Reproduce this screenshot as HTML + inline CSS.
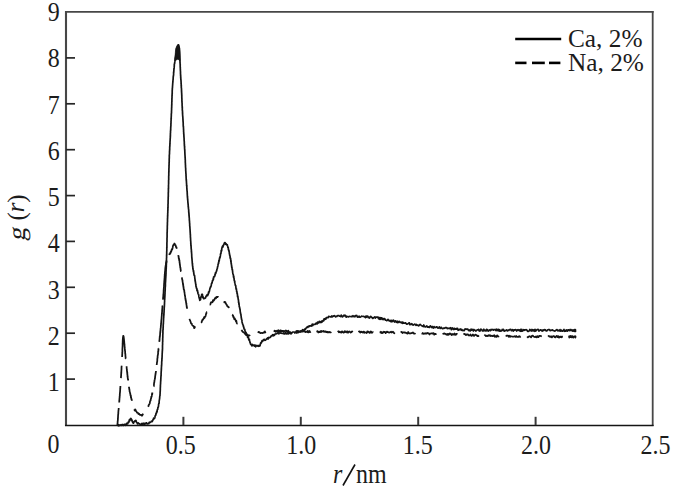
<!DOCTYPE html>
<html><head><meta charset="utf-8"><style>
html,body{margin:0;padding:0;background:#fff;}
svg{display:block;}
text{font-family:"Liberation Serif",serif;fill:#1c1c1c;}
</style></head><body>
<svg width="688" height="492" viewBox="0 0 688 492">
<rect width="688" height="492" fill="#fff"/>
<g fill="none">
<line x1="66" y1="11" x2="66" y2="426" stroke="#474747" stroke-width="2.1"/>
<line x1="65" y1="11.9" x2="653.6" y2="11.9" stroke="#474747" stroke-width="1.8"/>
<line x1="652.7" y1="11" x2="652.7" y2="426" stroke="#474747" stroke-width="1.8"/>
<line x1="65" y1="425.4" x2="653.6" y2="425.4" stroke="#151515" stroke-width="1.5"/>
<g stroke="#262626" stroke-width="1.7"><line x1="66" x2="75" y1="379.1" y2="379.1"/><line x1="66" x2="75" y1="333.2" y2="333.2"/><line x1="66" x2="75" y1="287.3" y2="287.3"/><line x1="66" x2="75" y1="241.4" y2="241.4"/><line x1="66" x2="75" y1="195.6" y2="195.6"/><line x1="66" x2="75" y1="149.7" y2="149.7"/><line x1="66" x2="75" y1="103.8" y2="103.8"/><line x1="66" x2="75" y1="57.9" y2="57.9"/></g><g stroke="#3a3a3a" stroke-width="2"><line y1="425" y2="416.8" x1="183.4" x2="183.4"/><line y1="425" y2="416.8" x1="300.8" x2="300.8"/><line y1="425" y2="416.8" x1="418.2" x2="418.2"/><line y1="425" y2="416.8" x1="535.6" x2="535.6"/></g>
</g>
<g font-size="24">
<text transform="translate(53.80,391.02) scale(1,1.120)" text-anchor="middle">1</text><text transform="translate(53.80,344.79) scale(1,1.120)" text-anchor="middle">2</text><text transform="translate(53.80,298.56) scale(1,1.120)" text-anchor="middle">3</text><text transform="translate(53.80,252.33) scale(1,1.120)" text-anchor="middle">4</text><text transform="translate(53.80,206.10) scale(1,1.120)" text-anchor="middle">5</text><text transform="translate(53.80,159.87) scale(1,1.120)" text-anchor="middle">6</text><text transform="translate(53.80,113.64) scale(1,1.120)" text-anchor="middle">7</text><text transform="translate(53.80,67.41) scale(1,1.120)" text-anchor="middle">8</text><text transform="translate(53.80,21.18) scale(1,1.120)" text-anchor="middle">9</text>
<text transform="translate(53.50,453.30) scale(1,1.120)" text-anchor="middle">0</text>
<text transform="translate(180.80,453.80) scale(1,1.120)" text-anchor="middle">0.5</text><text transform="translate(301.30,453.80) scale(1,1.120)" text-anchor="middle">1.0</text><text transform="translate(417.70,453.80) scale(1,1.120)" text-anchor="middle">1.5</text><text transform="translate(536.10,453.80) scale(1,1.120)" text-anchor="middle">2.0</text><text transform="translate(655.40,453.80) scale(1,1.120)" text-anchor="middle">2.5</text>
</g>
<g font-size="24"><text transform="translate(332.90,482.70) scale(1,1.120)" text-anchor="start"><tspan font-style="italic">r</tspan></text><text transform="translate(355.90,482.70) scale(1,1.120)" text-anchor="start">nm</text></g><line x1="343" y1="485.5" x2="355" y2="464.5" stroke="#111" stroke-width="1.6"/>
<g font-size="24"><text transform="translate(25.2,241.3) rotate(-90) skewX(-10) scale(1.12,1.03)">g</text><text transform="translate(25.4,220.6) rotate(-90) scale(1.03,1.05)">(<tspan font-style="italic" dy="-1">r</tspan><tspan dy="1">)</tspan></text></g>
<g fill="none" stroke="#000" stroke-linejoin="round" stroke-linecap="round">
<path d="M117.5 425.5 L117.6 425.2 L117.9 424.8 L118.3 425.8 L118.9 424.7 L119.6 425.6 L120.3 425.3 L121.1 424.7 L121.9 425.5 L122.7 424.5 L123.5 425.3 L124.2 424.4 L124.8 424.3 L125.3 424.8 L125.9 425.3 L126.4 423.6 L126.8 423.3 L127.2 423.7 L127.6 423.9 L128.0 422.7 L128.4 421.8 L128.8 422.3 L129.3 419.9 L129.7 420.9 L130.1 419.2 L130.5 418.6 L130.9 418.4 L131.3 419.0 L131.7 420.6 L132.0 420.1 L132.4 421.7 L132.8 422.6 L133.1 422.6 L133.5 423.2 L134.0 422.0 L134.4 421.3 L134.9 420.8 L135.3 421.1 L135.7 420.4 L136.0 420.5 L136.2 421.7 L136.5 422.3 L137.0 422.6 L137.4 423.8 L137.9 423.8 L138.4 423.0 L139.0 423.8 L139.7 423.8 L140.3 424.6 L141.1 424.4 L141.8 423.5 L142.5 424.9 L143.2 423.2 L143.8 423.8 L144.4 424.5 L145.0 423.2 L145.7 423.8 L146.4 422.8 L147.0 423.9 L147.7 423.9 L148.2 423.3 L148.8 423.6 L149.4 422.2 L149.9 422.7 L150.5 422.2 L151.0 421.8 L151.4 421.2 L151.9 421.6 L152.4 421.4 L152.8 419.9 L153.2 419.9 L153.6 418.2 L153.9 418.9 L154.3 418.2 L154.6 418.3 L154.9 417.4 L155.2 415.7 L155.5 415.3 L155.8 415.2 L156.0 413.4 L156.3 413.7 L156.5 412.5 L156.7 411.8 L156.9 411.1 L157.1 411.9 L157.2 410.0 L157.4 409.6 L157.6 409.2 L157.7 409.5 L157.9 407.3 L158.0 407.5 L158.2 407.1 L158.3 407.2 L158.4 406.5 L158.5 406.0 L158.6 404.2 L158.8 403.9 L158.9 403.2 L159.0 403.6 L159.1 403.2 L159.2 400.9 L159.3 400.3 L159.4 399.8 L159.5 399.2 L159.5 399.1 L159.6 398.6 L159.7 397.3 L159.8 396.2 L159.8 396.5 L159.9 395.8 L159.9 395.6 L160.0 395.8 L160.0 394.7 L160.1 393.8 L160.1 393.4 L160.1 392.9 L160.2 391.1 L160.2 392.2 L160.2 391.3 L160.2 390.9 L160.3 390.1 L160.3 388.7 L160.3 388.1 L160.4 386.8 L160.4 387.3 L160.4 385.5 L160.5 384.8 L160.5 384.4 L160.5 383.8 L160.6 383.6 L160.6 382.4 L160.6 381.8 L160.7 381.5 L160.7 380.8 L160.7 380.7 L160.8 379.4 L160.8 380.5 L160.8 379.4 L160.9 377.9 L160.9 377.4 L160.9 377.0 L161.0 376.4 L161.0 375.3 L161.0 376.1 L161.1 375.8 L161.1 374.1 L161.1 373.5 L161.2 372.1 L161.2 371.5 L161.2 371.3 L161.3 370.5 L161.3 371.0 L161.3 369.1 L161.4 368.2 L161.4 369.4 L161.4 368.0 L161.5 366.6 L161.5 366.8 L161.5 365.2 L161.6 365.6 L161.6 366.0 L161.6 365.1 L161.7 364.1 L161.7 362.6 L161.7 362.2 L161.8 361.2 L161.8 361.8 L161.8 360.8 L161.9 360.7 L161.9 359.2 L161.9 358.4 L162.0 359.0 L162.0 358.8 L162.0 357.9 L162.1 357.2 L162.1 356.7 L162.1 355.9 L162.2 354.3 L162.2 354.3 L162.2 353.4 L162.3 352.2 L162.3 351.6 L162.3 351.4 L162.3 350.8 L162.4 351.0 L162.4 350.9 L162.4 349.3 L162.4 349.7 L162.5 349.3 L162.5 348.6 L162.5 346.9 L162.5 346.0 L162.5 345.4 L162.6 344.8 L162.6 344.2 L162.6 344.4 L162.6 344.4 L162.6 343.7 L162.6 342.4 L162.6 342.1 L162.7 341.8 L162.7 339.7 L162.7 340.3 L162.7 340.2 L162.7 339.3 L162.7 338.6 L162.8 337.5 L162.8 336.2 L162.8 336.8 L162.8 335.3 L162.8 335.6 L162.8 335.3 L162.9 333.6 L162.9 332.9 L162.9 333.4 L162.9 332.3 L162.9 330.6 L163.0 329.9 L163.0 329.3 L163.0 330.2 L163.1 329.4 L163.1 327.5 L163.1 328.3 L163.1 328.0 L163.2 326.8 L163.2 325.6 L163.2 325.4 L163.3 323.9 L163.3 323.1 L163.3 324.4 L163.4 323.2 L163.4 322.3 L163.4 322.5 L163.5 320.9 L163.5 321.2 L163.5 320.5 L163.6 318.7 L163.6 318.1 L163.7 317.6 L163.7 316.9 L163.7 317.0 L163.8 315.7 L163.8 315.4 L163.8 314.2 L163.9 315.2 L163.9 313.5 L164.0 313.1 L164.0 312.7 L164.0 312.7 L164.1 311.1 L164.1 311.5 L164.1 310.1 L164.2 309.5 L164.2 308.9 L164.2 307.3 L164.3 307.5 L164.3 306.4 L164.3 305.4 L164.4 306.4 L164.4 304.5 L164.4 304.5 L164.5 304.4 L164.5 303.4 L164.5 302.4 L164.6 302.1 L164.6 301.6 L164.6 301.4 L164.6 299.4 L164.7 299.7 L164.7 298.5 L164.7 297.9 L164.8 298.2 L164.8 297.1 L164.8 296.6 L164.9 296.3 L164.9 296.0 L164.9 294.4 L165.0 294.2 L165.0 293.3 L165.0 292.7 L165.0 292.4 L165.1 291.3 L165.1 290.9 L165.1 290.2 L165.2 290.5 L165.2 289.4 L165.2 289.1 L165.2 288.7 L165.3 286.7 L165.3 286.7 L165.3 286.9 L165.4 286.1 L165.4 284.1 L165.4 283.5 L165.4 283.6 L165.5 282.3 L165.5 282.1 L165.5 281.1 L165.6 281.6 L165.6 281.2 L165.6 280.8 L165.7 278.6 L165.7 279.1 L165.7 278.4 L165.8 276.7 L165.8 277.6 L165.8 277.1 L165.9 275.0 L165.9 275.9 L165.9 274.2 L165.9 273.8 L166.0 274.2 L166.0 273.3 L166.0 271.3 L166.1 271.3 L166.1 270.8 L166.1 269.9 L166.1 269.0 L166.2 268.7 L166.2 268.9 L166.2 266.9 L166.3 267.3 L166.3 266.5 L166.3 265.0 L166.3 265.1 L166.3 265.0 L166.4 264.2 L166.4 262.7 L166.4 264.0 L166.4 263.0 L166.5 262.8 L166.5 260.5 L166.5 260.2 L166.5 259.1 L166.5 260.0 L166.5 258.4 L166.6 257.6 L166.6 257.6 L166.6 257.9 L166.6 257.2 L166.6 255.4 L166.6 254.6 L166.7 255.6 L166.7 254.3 L166.7 253.9 L166.7 252.1 L166.7 251.4 L166.7 252.0 L166.8 250.8 L166.8 249.5 L166.8 250.6 L166.8 249.4 L166.8 249.2 L166.8 247.2 L166.9 248.1 L166.9 246.0 L166.9 247.0 L166.9 245.6 L166.9 244.7 L166.9 244.6 L166.9 244.7 L166.9 242.8 L167.0 241.9 L167.0 242.1 L167.0 240.9 L167.0 240.0 L167.0 239.5 L167.0 238.7 L167.0 238.4 L167.0 238.0 L167.1 237.3 L167.1 237.6 L167.1 236.0 L167.1 235.8 L167.1 234.5 L167.1 234.3 L167.1 233.0 L167.1 232.8 L167.2 231.7 L167.2 232.5 L167.2 231.5 L167.2 230.2 L167.2 230.1 L167.2 230.4 L167.3 228.1 L167.3 228.9 L167.3 227.5 L167.3 227.0 L167.3 227.1 L167.3 225.6 L167.4 225.2 L167.4 225.0 L167.4 225.0 L167.4 223.1 L167.4 223.5 L167.4 222.6 L167.5 221.9 L167.5 220.8 L167.5 220.1 L167.5 218.9 L167.5 218.5 L167.6 217.8 L167.6 218.5 L167.6 216.9 L167.6 216.2 L167.6 215.4 L167.7 216.3 L167.7 215.8 L167.7 214.8 L167.7 213.4 L167.8 212.7 L167.8 212.2 L167.8 211.9 L167.8 210.7 L167.8 210.6 L167.9 209.7 L167.9 210.4 L167.9 209.8 L167.9 208.4 L167.9 207.1 L168.0 207.9 L168.0 206.0 L168.0 205.4 L168.0 204.1 L168.0 204.2 L168.1 203.8 L168.1 203.2 L168.1 201.9 L168.1 201.9 L168.1 200.4 L168.1 200.3 L168.2 199.4 L168.2 199.4 L168.2 198.1 L168.2 197.5 L168.2 197.4 L168.2 196.7 L168.3 196.8 L168.3 196.0 L168.3 195.8 L168.3 195.0 L168.3 194.5 L168.3 194.2 L168.3 192.6 L168.4 191.8 L168.4 192.5 L168.4 190.2 L168.4 190.7 L168.4 189.9 L168.4 188.1 L168.5 189.0 L168.5 188.5 L168.5 187.3 L168.5 186.9 L168.5 186.4 L168.5 184.4 L168.5 184.5 L168.6 183.9 L168.6 183.9 L168.6 183.2 L168.6 182.6 L168.6 181.5 L168.6 181.5 L168.6 180.4 L168.7 179.9 L168.7 178.3 L168.7 177.3 L168.7 176.9 L168.7 176.8 L168.7 175.7 L168.7 176.6 L168.8 175.4 L168.8 175.0 L168.8 174.4 L168.8 174.0 L168.8 173.1 L168.8 171.6 L168.8 172.6 L168.9 172.0 L168.9 171.0 L168.9 170.6 L168.9 170.3 L168.9 168.4 L168.9 169.1 L169.0 167.5 L169.0 166.5 L169.0 166.2 L169.0 166.5 L169.0 164.9 L169.0 165.4 L169.1 165.3 L169.1 163.7 L169.1 163.0 L169.1 162.6 L169.1 162.5 L169.2 162.1 L169.2 161.2 L169.2 160.7 L169.2 159.0 L169.2 158.6 L169.3 158.2 L169.3 158.6 L169.3 157.2 L169.3 157.1 L169.3 155.3 L169.4 154.8 L169.4 154.5 L169.4 154.8 L169.4 154.3 L169.5 153.7 L169.5 152.4 L169.5 152.3 L169.5 151.6 L169.6 151.0 L169.6 149.8 L169.6 150.7 L169.7 148.7 L169.7 149.7 L169.7 149.0 L169.7 146.6 L169.8 146.8 L169.8 147.0 L169.8 146.6 L169.9 145.0 L169.9 144.0 L169.9 143.3 L170.0 144.1 L170.0 142.0 L170.0 142.1 L170.1 140.6 L170.1 140.8 L170.1 141.0 L170.2 138.7 L170.2 139.4 L170.2 138.2 L170.3 138.3 L170.3 137.3 L170.3 135.7 L170.4 136.5 L170.4 135.0 L170.4 133.5 L170.5 132.8 L170.5 133.1 L170.5 132.4 L170.5 131.5 L170.6 130.6 L170.6 130.4 L170.6 129.7 L170.7 130.2 L170.7 127.9 L170.7 128.7 L170.7 128.3 L170.8 126.2 L170.8 127.2 L170.8 126.2 L170.9 125.9 L170.9 124.1 L170.9 123.6 L171.0 123.0 L171.0 123.6 L171.0 122.1 L171.0 121.1 L171.1 120.6 L171.1 119.6 L171.1 118.5 L171.2 118.0 L171.2 118.9 L171.2 117.1 L171.2 117.8 L171.3 115.8 L171.3 115.2 L171.3 115.1 L171.3 113.9 L171.4 113.6 L171.4 114.2 L171.4 113.4 L171.5 112.7 L171.5 111.7 L171.5 111.7 L171.5 111.2 L171.6 109.8 L171.6 109.6 L171.6 107.6 L171.6 108.4 L171.7 107.3 L171.7 107.4 L171.7 106.6 L171.7 105.2 L171.8 104.1 L171.8 105.2 L171.8 103.0 L171.8 103.0 L171.8 102.1 L171.9 101.4 L171.9 101.7 L171.9 101.6 L171.9 99.5 L171.9 99.7 L171.9 98.4 L172.0 98.3 L172.0 97.4 L172.0 96.4 L172.0 95.8 L172.0 95.3 L172.1 96.1 L172.1 94.7 L172.1 93.6 L172.1 94.3 L172.2 93.9 L172.2 92.3 L172.2 91.1 L172.2 90.6 L172.3 89.8 L172.3 89.7 L172.3 88.6 L172.4 88.2 L172.4 87.6 L172.5 87.6 L172.5 87.6 L172.5 86.7 L172.6 85.4 L172.6 84.8 L172.7 84.4 L172.7 83.5 L172.8 82.8 L172.8 81.6 L172.9 81.4 L172.9 82.2 L173.0 79.9 L173.0 80.0 L173.1 79.7 L173.1 79.5 L173.2 77.6 L173.2 77.1 L173.3 76.5 L173.3 76.2 L173.4 75.7 L173.4 76.1 L173.5 75.3 L173.6 74.7 L173.6 72.4 L173.7 71.7 L173.7 72.5 L173.8 72.2 L173.8 70.7 L173.9 70.3 L173.9 68.6 L174.0 68.7 L174.0 69.2 L174.1 68.4 L174.1 67.8 L174.2 67.4 L174.3 65.4 L174.3 64.5 L174.4 63.9 L174.5 64.1 L174.5 63.8 L174.6 63.6 L174.7 62.6 L174.8 61.8 L174.9 61.4 L175.0 60.2 L175.1 59.7 L175.2 58.0 L175.3 58.9 L175.4 57.1 L175.5 57.8 L175.6 56.5 L175.8 55.1 L175.9 54.1 L176.0 53.6 L176.1 53.7 L176.3 53.2 L176.4 51.4 L176.5 50.6 L176.6 50.9 L176.8 50.4 L176.9 49.5 L177.0 48.6 L177.1 48.9 L177.2 47.2 L177.3 47.3 L177.4 47.3 L177.5 47.9 L177.7 46.3 L178.0 46.1 L178.2 45.0 L178.5 44.8 L178.7 45.5 L179.0 47.9 L179.1 47.8 L179.1 47.4 L179.2 47.2 L179.3 48.6 L179.3 49.5 L179.4 49.5 L179.4 49.8 L179.5 51.2 L179.5 52.3 L179.5 51.6 L179.6 51.9 L179.6 53.1 L179.7 54.0 L179.7 55.2 L179.7 54.9 L179.8 56.8 L179.8 57.4 L179.8 57.6 L179.8 57.7 L179.9 59.9 L179.9 59.3 L179.9 60.9 L180.0 60.4 L180.0 60.9 L180.0 62.7 L180.1 62.4 L180.1 64.3 L180.1 64.0 L180.2 64.0 L180.2 64.7 L180.2 65.7 L180.2 66.8 L180.3 68.0 L180.3 67.0 L180.3 68.1 L180.3 68.4 L180.4 70.5 L180.4 69.5 L180.4 69.9 L180.4 70.5 L180.5 71.8 L180.5 73.5 L180.5 74.1 L180.6 74.4 L180.6 75.6 L180.6 76.1 L180.7 75.4 L180.7 75.8 L180.7 77.9 L180.8 78.1 L180.8 77.3 L180.8 79.1 L180.9 79.2 L180.9 79.8 L181.0 80.3 L181.0 80.6 L181.0 80.9 L181.1 82.1 L181.1 82.8 L181.1 84.7 L181.2 83.6 L181.2 85.9 L181.3 85.0 L181.3 86.0 L181.3 87.5 L181.4 88.1 L181.4 88.0 L181.4 87.8 L181.5 89.3 L181.5 89.7 L181.5 91.4 L181.6 90.6 L181.6 91.5 L181.6 93.2 L181.6 92.0 L181.7 93.3 L181.7 94.7 L181.7 95.2 L181.7 94.4 L181.8 94.9 L181.8 95.6 L181.8 97.9 L181.8 97.1 L181.9 98.7 L181.9 99.6 L181.9 99.1 L181.9 99.5 L181.9 101.5 L182.0 101.4 L182.0 101.4 L182.0 102.9 L182.0 102.7 L182.1 103.3 L182.1 103.4 L182.1 105.5 L182.2 106.5 L182.2 106.6 L182.2 107.7 L182.3 106.5 L182.3 107.4 L182.3 108.5 L182.3 110.0 L182.4 110.6 L182.4 110.1 L182.4 110.4 L182.5 111.3 L182.5 112.0 L182.5 113.5 L182.6 112.6 L182.6 114.5 L182.6 115.0 L182.7 115.7 L182.7 116.3 L182.8 116.5 L182.8 116.6 L182.8 117.2 L182.9 117.9 L182.9 119.4 L182.9 118.6 L183.0 119.5 L183.0 121.2 L183.0 120.8 L183.1 121.1 L183.1 121.7 L183.2 123.3 L183.2 123.5 L183.2 125.4 L183.3 125.9 L183.3 126.7 L183.3 125.9 L183.4 126.2 L183.4 126.8 L183.5 128.2 L183.5 129.3 L183.5 129.4 L183.6 129.6 L183.6 130.5 L183.6 131.6 L183.7 132.3 L183.7 133.0 L183.7 133.9 L183.8 134.1 L183.8 133.6 L183.9 135.7 L183.9 135.2 L183.9 136.4 L184.0 136.7 L184.0 138.0 L184.0 137.6 L184.1 138.3 L184.1 138.9 L184.1 139.4 L184.2 141.5 L184.2 141.5 L184.3 141.6 L184.3 142.4 L184.3 144.2 L184.4 143.9 L184.4 143.9 L184.4 145.7 L184.5 146.0 L184.5 147.3 L184.6 146.1 L184.6 147.5 L184.6 148.8 L184.7 149.4 L184.7 150.2 L184.7 149.0 L184.8 150.1 L184.8 150.3 L184.8 151.1 L184.9 153.2 L184.9 153.0 L184.9 154.2 L184.9 153.7 L185.0 155.2 L185.0 154.9 L185.0 155.2 L185.1 156.9 L185.1 157.8 L185.1 156.8 L185.2 158.4 L185.2 159.0 L185.2 158.8 L185.2 159.7 L185.3 159.8 L185.3 160.5 L185.3 161.2 L185.3 162.4 L185.4 163.1 L185.4 162.8 L185.4 162.9 L185.4 164.1 L185.5 165.4 L185.5 165.0 L185.5 165.9 L185.5 166.2 L185.6 168.0 L185.6 168.2 L185.6 167.8 L185.7 168.5 L185.7 169.8 L185.7 170.6 L185.8 171.4 L185.8 170.8 L185.8 171.5 L185.9 173.2 L185.9 173.2 L185.9 173.5 L186.0 174.1 L186.0 176.0 L186.0 175.3 L186.1 176.4 L186.1 176.6 L186.1 177.3 L186.2 178.8 L186.2 179.7 L186.3 179.1 L186.3 179.4 L186.3 181.0 L186.4 180.6 L186.4 180.8 L186.5 183.3 L186.5 182.9 L186.6 184.4 L186.6 184.2 L186.6 185.8 L186.7 185.5 L186.7 185.6 L186.8 185.9 L186.8 187.6 L186.9 188.4 L186.9 189.6 L186.9 188.6 L187.0 190.3 L187.0 190.4 L187.1 191.3 L187.1 191.2 L187.2 192.1 L187.2 193.2 L187.3 194.6 L187.3 193.6 L187.3 195.0 L187.4 196.2 L187.4 197.2 L187.5 196.2 L187.5 196.7 L187.6 198.9 L187.6 199.6 L187.7 199.2 L187.7 198.9 L187.8 201.3 L187.8 200.8 L187.9 202.4 L187.9 202.5 L188.0 203.5 L188.0 202.7 L188.1 204.6 L188.1 204.1 L188.2 205.0 L188.2 206.5 L188.3 207.1 L188.3 206.4 L188.4 207.1 L188.4 208.0 L188.5 208.9 L188.5 209.2 L188.6 209.3 L188.7 210.2 L188.7 211.7 L188.8 212.7 L188.8 211.6 L188.9 213.2 L188.9 214.2 L189.0 213.4 L189.0 215.7 L189.1 214.8 L189.1 216.4 L189.2 217.0 L189.2 217.8 L189.3 217.8 L189.3 218.6 L189.3 219.5 L189.4 219.8 L189.4 220.9 L189.5 221.0 L189.5 221.6 L189.5 221.4 L189.6 223.2 L189.6 223.5 L189.7 223.6 L189.7 225.3 L189.7 225.9 L189.8 225.9 L189.8 226.0 L189.9 227.2 L189.9 227.1 L189.9 227.8 L190.0 229.0 L190.0 228.9 L190.1 230.3 L190.1 231.0 L190.1 230.7 L190.2 232.6 L190.2 232.1 L190.3 234.0 L190.3 234.8 L190.3 234.9 L190.4 234.6 L190.4 236.1 L190.4 236.5 L190.5 238.3 L190.5 237.3 L190.6 239.3 L190.6 240.2 L190.6 240.3 L190.7 241.1 L190.7 240.5 L190.8 242.7 L190.8 242.3 L190.8 243.8 L190.9 244.3 L190.9 243.4 L190.9 245.3 L191.0 246.1 L191.0 245.0 L191.1 246.1 L191.1 247.5 L191.1 246.9 L191.2 248.9 L191.2 248.2 L191.3 249.8 L191.3 249.0 L191.4 250.4 L191.4 251.9 L191.5 251.2 L191.5 251.9 L191.6 253.1 L191.6 253.4 L191.6 253.5 L191.7 254.4 L191.7 255.0 L191.8 257.2 L191.8 257.4 L191.9 258.4 L191.9 257.6 L192.0 259.4 L192.0 258.7 L192.1 260.2 L192.1 261.0 L192.2 261.0 L192.2 262.6 L192.3 262.6 L192.3 263.2 L192.4 264.4 L192.5 263.4 L192.5 265.8 L192.6 265.6 L192.6 265.7 L192.7 267.0 L192.8 266.5 L192.8 268.5 L192.9 268.2 L193.0 268.4 L193.1 269.9 L193.2 269.9 L193.3 270.0 L193.4 271.7 L193.6 270.9 L193.7 273.1 L193.8 272.5 L193.9 273.9 L194.0 275.1 L194.1 274.9 L194.3 275.6 L194.4 275.5 L194.5 275.4 L194.6 276.0 L194.7 276.8 L194.8 278.3 L194.9 278.6 L195.0 279.4 L195.1 280.9 L195.2 280.0 L195.2 280.8 L195.3 282.3 L195.4 281.7 L195.5 282.3 L195.6 283.6 L195.7 283.7 L195.8 284.8 L195.9 285.2 L196.0 286.5 L196.1 287.1 L196.3 286.9 L196.5 288.4 L196.7 288.7 L196.9 288.6 L197.0 290.8 L197.2 290.0 L197.4 290.3 L197.6 290.8 L197.8 292.5 L198.0 293.5 L198.2 294.0 L198.4 294.0 L198.5 294.5 L198.7 294.8 L198.9 296.9 L199.1 297.5 L199.2 297.7 L199.4 298.9 L199.6 299.0 L199.8 300.3 L200.0 300.0 L200.2 298.8 L200.5 299.6 L200.8 297.2 L201.0 297.3 L201.3 296.2 L201.6 295.2 L201.8 294.3 L202.1 295.6 L202.4 294.3 L202.6 296.0 L202.8 297.6 L203.1 296.8 L203.4 297.6 L203.7 298.7 L204.2 298.4 L204.9 298.3 L205.5 298.0 L206.1 296.1 L206.5 296.0 L206.9 295.5 L207.2 294.5 L207.6 295.6 L207.9 294.8 L208.3 294.0 L208.6 291.8 L208.8 293.0 L209.0 292.4 L209.2 291.3 L209.4 291.3 L209.6 290.2 L209.8 289.2 L210.0 288.3 L210.2 288.0 L210.4 287.0 L210.5 286.9 L210.7 287.1 L210.9 286.4 L211.1 286.0 L211.3 285.1 L211.5 283.6 L211.7 283.5 L211.9 282.7 L212.1 282.8 L212.3 281.6 L212.5 280.5 L212.7 280.7 L212.9 280.7 L213.2 278.7 L213.4 279.4 L213.6 277.1 L213.8 277.0 L214.1 276.4 L214.3 276.8 L214.5 276.7 L214.8 275.7 L215.0 274.3 L215.2 274.8 L215.4 273.1 L215.7 272.4 L215.9 273.1 L216.1 272.0 L216.3 271.5 L216.5 270.8 L216.7 270.9 L216.9 269.3 L217.0 269.4 L217.2 268.6 L217.4 268.3 L217.5 266.8 L217.7 266.8 L217.9 265.9 L218.0 264.8 L218.2 264.0 L218.3 264.2 L218.5 262.5 L218.6 263.5 L218.8 261.4 L218.9 260.5 L219.1 260.1 L219.2 261.2 L219.4 259.4 L219.5 258.4 L219.7 257.6 L219.8 257.1 L220.0 257.8 L220.1 257.0 L220.2 256.5 L220.4 255.9 L220.5 254.0 L220.6 254.4 L220.7 253.3 L220.9 253.6 L221.0 253.0 L221.1 252.5 L221.2 250.3 L221.4 251.3 L221.5 250.9 L221.7 250.4 L221.8 248.2 L222.0 247.9 L222.2 247.0 L222.5 246.2 L222.8 247.1 L223.1 246.3 L223.3 245.3 L223.6 245.1 L223.9 244.3 L224.3 243.2 L224.6 242.7 L225.1 242.7 L225.6 244.3 L226.1 243.6 L226.6 244.4 L227.1 245.2 L227.3 244.8 L227.5 245.7 L227.7 246.2 L227.9 247.6 L228.1 247.4 L228.3 247.9 L228.4 249.8 L228.6 249.5 L228.7 250.8 L228.9 251.0 L229.0 250.5 L229.2 252.0 L229.3 252.7 L229.4 254.1 L229.6 254.0 L229.7 255.4 L229.8 255.7 L230.0 255.8 L230.1 257.7 L230.2 256.8 L230.3 258.8 L230.4 258.1 L230.6 258.3 L230.7 259.3 L230.8 261.0 L230.9 262.0 L231.0 260.6 L231.1 262.2 L231.1 262.8 L231.2 264.0 L231.3 263.4 L231.4 264.6 L231.5 264.9 L231.6 266.5 L231.7 265.9 L231.8 267.9 L231.9 267.2 L232.0 267.7 L232.1 269.4 L232.2 269.6 L232.4 269.5 L232.5 271.2 L232.6 270.8 L232.7 272.7 L232.8 273.1 L232.9 273.8 L233.0 274.0 L233.1 274.1 L233.3 274.7 L233.4 275.3 L233.5 276.9 L233.6 275.8 L233.7 278.0 L233.9 276.9 L234.0 277.9 L234.1 278.6 L234.2 280.5 L234.4 280.3 L234.5 280.7 L234.6 282.3 L234.8 281.6 L234.9 282.7 L235.0 283.4 L235.2 284.5 L235.3 285.1 L235.4 285.5 L235.6 285.6 L235.7 286.1 L235.8 286.4 L236.0 288.4 L236.1 288.7 L236.2 289.4 L236.4 288.9 L236.5 290.0 L236.6 291.3 L236.7 291.5 L236.8 291.2 L237.0 292.5 L237.1 293.9 L237.2 293.2 L237.3 293.6 L237.4 294.4 L237.5 295.8 L237.6 296.8 L237.8 296.0 L237.9 296.7 L238.0 297.5 L238.1 298.3 L238.2 299.3 L238.3 299.2 L238.4 300.1 L238.5 300.5 L238.6 302.7 L238.7 302.8 L238.8 302.1 L238.9 304.5 L239.0 303.4 L239.1 304.5 L239.2 306.3 L239.3 306.5 L239.4 307.0 L239.5 307.0 L239.6 307.1 L239.7 308.5 L239.8 308.1 L239.9 308.8 L240.0 309.8 L240.1 309.6 L240.2 310.9 L240.3 312.2 L240.4 312.6 L240.5 312.9 L240.6 313.8 L240.8 314.1 L240.9 314.1 L241.0 315.7 L241.1 315.9 L241.2 317.2 L241.3 318.2 L241.4 317.8 L241.5 318.7 L241.6 319.7 L241.7 319.6 L241.9 319.9 L242.0 321.4 L242.1 322.3 L242.2 322.7 L242.4 323.1 L242.5 324.0 L242.7 324.2 L242.8 324.7 L243.0 324.9 L243.2 325.3 L243.4 326.5 L243.5 326.0 L243.7 327.3 L244.0 328.6 L244.2 329.0 L244.4 329.4 L244.6 329.2 L244.8 330.1 L245.0 330.7 L245.2 331.6 L245.5 331.7 L245.7 332.7 L245.9 333.8 L246.2 332.9 L246.4 334.4 L246.7 335.2 L247.0 335.0 L247.3 335.7 L247.6 337.3 L247.8 335.9 L248.1 337.5 L248.4 337.2 L248.6 339.0 L248.9 339.9 L249.1 339.6 L249.4 339.4 L249.6 341.0 L249.8 341.5 L250.0 342.5 L250.2 342.7 L250.4 343.5 L250.7 344.4 L251.0 344.2 L251.3 344.3 L251.8 345.8 L252.4 344.5 L253.0 345.6 L253.7 345.1 L254.4 346.0 L255.0 344.9 L255.6 346.8 L256.3 345.8 L256.9 345.4 L257.6 346.0 L258.2 346.3 L258.8 345.5 L259.3 346.1 L259.7 345.8 L260.0 345.8 L260.3 344.5 L260.5 343.6 L260.7 342.8 L261.0 343.2 L261.3 342.9 L261.7 341.6 L262.1 340.6 L262.6 341.4 L263.1 340.3 L263.7 339.7 L264.3 339.3 L264.8 340.3 L265.4 340.2 L266.0 339.6 L266.6 338.9 L267.1 338.8 L267.7 337.8 L268.2 339.0 L268.8 337.4 L269.3 337.6 L269.9 337.6 L270.4 337.3 L271.0 336.2 L271.6 335.6 L272.1 335.8 L272.7 334.7 L273.3 335.8 L273.9 334.6 L274.4 335.4 L275.0 334.0 L275.6 334.0 L276.2 333.6 L276.8 333.8 L277.4 333.1 L278.1 332.6 L278.8 333.9 L279.3 333.0 L279.9 332.8 L280.4 332.9 L281.0 333.2 L281.6 333.1 L282.2 333.5 L282.9 333.5 L283.5 332.9 L284.1 334.0 L284.8 333.9 L285.4 332.3 L286.1 333.8 L286.8 334.0 L287.4 333.7 L288.0 332.4 L288.7 333.8 L289.3 333.4 L289.9 332.1 L290.4 332.1 L291.0 333.9 L291.7 333.2 L292.4 332.3 L293.0 332.0 L293.7 332.0 L294.3 332.0 L294.9 333.0 L295.6 332.1 L296.2 331.6 L296.8 333.0 L297.3 332.6 L297.9 331.2 L298.5 332.5 L299.0 331.8 L299.6 332.0 L300.2 331.5 L300.8 331.8 L301.4 331.4 L301.9 331.2 L302.5 329.7 L303.1 330.4 L303.7 329.8 L304.2 330.0 L304.6 329.1 L305.1 329.7 L305.7 328.8 L306.2 327.9 L306.7 327.5 L307.3 327.0 L307.8 327.4 L308.4 326.2 L309.0 326.7 L309.5 325.8 L310.1 326.1 L310.7 325.8 L311.2 325.6 L311.8 326.0 L312.3 324.0 L312.9 325.4 L313.5 324.4 L314.0 324.3 L314.6 324.3 L315.2 324.4 L315.8 323.3 L316.4 323.1 L317.0 324.0 L317.6 322.0 L318.2 323.0 L318.8 322.7 L319.3 321.3 L319.9 322.3 L320.5 322.2 L321.0 322.5 L321.5 321.0 L322.0 322.1 L322.6 320.8 L323.1 320.4 L323.6 320.9 L324.1 318.8 L324.5 319.8 L325.0 319.2 L325.4 318.3 L325.9 319.0 L326.4 317.7 L326.9 317.6 L327.5 317.5 L328.1 317.7 L328.6 316.4 L329.2 316.7 L329.8 316.5 L330.5 316.7 L331.1 317.1 L331.8 316.0 L332.4 316.9 L333.1 316.0 L333.7 316.2 L334.4 315.6 L335.0 316.1 L335.7 316.9 L336.3 316.3 L336.9 316.5 L337.5 315.6 L338.1 315.6 L338.7 315.5 L339.4 316.1 L340.0 316.3 L340.6 316.6 L341.2 315.1 L341.9 316.5 L342.5 316.9 L343.1 316.2 L343.7 315.3 L344.4 315.8 L345.0 315.2 L345.6 315.6 L346.2 317.1 L346.8 316.4 L347.4 316.5 L348.0 316.8 L348.6 317.0 L349.2 316.4 L349.9 316.5 L350.5 316.5 L351.1 316.6 L351.7 316.4 L352.4 316.6 L353.0 315.7 L353.7 316.6 L354.3 316.2 L355.0 316.8 L355.5 315.5 L356.1 315.7 L356.7 315.4 L357.3 316.9 L357.9 317.2 L358.5 316.8 L359.1 316.2 L359.8 317.2 L360.4 317.1 L361.0 316.7 L361.7 316.1 L362.3 316.3 L363.0 316.5 L363.6 316.4 L364.2 316.6 L364.9 317.1 L365.5 317.7 L366.1 316.0 L366.7 317.1 L367.3 316.1 L367.9 316.3 L368.4 317.7 L369.0 317.3 L369.5 318.0 L370.0 317.1 L370.7 316.3 L371.3 317.1 L372.0 317.5 L372.5 318.3 L373.1 318.4 L373.7 317.5 L374.2 317.4 L374.8 316.8 L375.4 318.0 L376.0 317.2 L376.7 317.2 L377.4 317.0 L377.9 317.1 L378.4 318.5 L378.9 317.5 L379.4 319.3 L380.0 317.6 L380.5 319.3 L381.1 317.9 L381.7 317.8 L382.3 319.4 L382.9 318.5 L383.5 319.6 L384.1 318.7 L384.7 318.5 L385.4 320.1 L386.0 320.1 L386.6 320.6 L387.3 320.4 L387.9 319.3 L388.6 320.5 L389.2 320.8 L389.9 320.4 L390.5 321.5 L391.2 320.3 L391.8 321.8 L392.4 321.5 L393.1 320.2 L393.7 320.3 L394.3 321.7 L394.9 322.1 L395.5 320.8 L396.1 321.3 L396.7 322.3 L397.3 321.2 L397.9 322.7 L398.5 322.1 L399.1 321.3 L399.7 322.0 L400.3 322.5 L400.9 322.3 L401.5 322.9 L402.1 321.9 L402.7 323.3 L403.3 322.5 L403.9 323.2 L404.5 323.2 L405.1 322.9 L405.7 322.9 L406.3 323.8 L406.9 324.2 L407.5 324.0 L408.1 323.6 L408.7 323.2 L409.3 322.8 L409.9 324.7 L410.5 324.2 L411.1 324.6 L411.7 323.7 L412.3 324.3 L412.9 325.1 L413.5 324.9 L414.1 324.6 L414.7 324.1 L415.3 324.4 L415.9 325.4 L416.5 324.5 L417.1 325.2 L417.7 325.1 L418.3 325.8 L418.9 325.7 L419.5 324.8 L420.1 324.3 L420.7 324.9 L421.3 325.4 L422.0 325.8 L422.6 326.3 L423.2 326.6 L423.8 325.0 L424.4 326.6 L425.0 326.7 L425.6 326.9 L426.2 326.4 L426.8 325.9 L427.4 327.1 L428.0 327.1 L428.6 326.9 L429.2 327.5 L429.8 326.4 L430.4 325.9 L431.0 326.9 L431.6 327.5 L432.2 326.4 L432.8 327.5 L433.4 328.0 L434.0 326.6 L434.6 327.4 L435.2 327.6 L435.8 327.3 L436.4 326.8 L437.0 326.9 L437.6 328.0 L438.2 328.1 L438.8 327.5 L439.4 326.8 L440.0 328.3 L440.6 328.3 L441.2 327.3 L441.8 328.0 L442.4 328.7 L443.0 328.7 L443.6 328.0 L444.2 328.0 L444.8 328.3 L445.4 327.5 L446.0 327.6 L446.6 327.6 L447.2 328.7 L447.8 328.1 L448.4 328.5 L449.0 328.3 L449.6 328.6 L450.2 327.9 L450.8 327.7 L451.4 329.7 L452.1 328.5 L452.7 328.0 L453.3 329.1 L453.9 329.5 L454.5 328.3 L455.1 329.2 L455.7 328.8 L456.3 329.2 L456.9 328.3 L457.5 328.3 L458.1 330.3 L458.7 330.1 L459.4 329.4 L460.0 329.6 L460.6 329.0 L461.2 330.1 L461.7 329.5 L462.3 330.5 L462.9 330.2 L463.5 330.4 L464.1 330.7 L464.7 329.3 L465.3 328.9 L465.9 329.3 L466.5 329.2 L467.1 329.1 L467.7 329.0 L468.3 330.1 L468.9 330.7 L469.4 329.9 L470.0 330.9 L470.5 330.8 L471.1 329.1 L471.7 330.2 L472.2 329.8 L472.8 329.3 L473.4 331.0 L474.0 329.6 L474.6 330.2 L475.2 330.3 L475.8 331.0 L476.5 330.4 L477.2 329.9 L477.8 330.0 L478.5 329.4 L479.3 331.0 L480.0 331.1 L480.5 329.5 L480.9 329.2 L481.4 329.6 L481.9 329.8 L482.4 330.9 L482.9 330.9 L483.4 330.8 L483.9 329.2 L484.4 330.7 L485.0 330.6 L485.5 330.4 L486.0 331.1 L486.6 329.3 L487.1 329.5 L487.7 330.7 L488.2 331.1 L488.8 330.5 L489.4 329.8 L489.9 330.4 L490.5 330.7 L491.1 329.4 L491.7 329.8 L492.3 329.7 L492.9 329.4 L493.5 330.2 L494.1 329.5 L494.7 329.7 L495.3 329.5 L495.9 330.6 L496.5 329.2 L497.2 330.7 L497.8 329.6 L498.4 329.3 L499.0 331.1 L499.7 329.7 L500.3 331.1 L501.0 331.0 L501.6 331.0 L502.2 329.5 L502.9 330.1 L503.5 329.4 L504.2 331.1 L504.8 330.9 L505.5 330.5 L506.1 330.2 L506.8 329.9 L507.5 330.9 L508.1 330.2 L508.8 330.5 L509.4 329.5 L510.1 329.7 L510.8 329.4 L511.4 330.7 L512.1 330.4 L512.7 329.6 L513.4 331.0 L514.1 329.8 L514.7 330.1 L515.4 329.6 L516.0 329.8 L516.7 331.0 L517.4 330.0 L518.0 329.6 L518.7 330.3 L519.3 329.9 L520.0 331.1 L520.6 329.5 L521.1 331.3 L521.7 329.4 L522.3 331.1 L523.0 330.6 L523.6 329.7 L524.2 330.3 L524.9 329.9 L525.5 329.8 L526.2 329.7 L526.9 330.1 L527.6 331.3 L528.3 331.3 L529.0 331.2 L529.8 329.5 L530.5 329.9 L531.2 331.1 L532.0 329.5 L532.7 330.8 L533.5 329.9 L534.3 331.3 L535.0 329.4 L535.8 331.0 L536.6 330.0 L537.4 329.6 L538.2 329.4 L539.0 331.0 L539.8 330.4 L540.6 329.8 L541.4 330.3 L542.2 331.2 L543.0 329.8 L543.8 330.5 L544.6 329.7 L545.4 329.8 L546.2 330.9 L547.0 330.8 L547.8 329.8 L548.6 329.6 L549.4 329.6 L550.2 330.6 L551.0 330.4 L551.8 330.0 L552.5 329.8 L553.3 330.6 L554.1 330.8 L554.9 331.1 L555.6 330.6 L556.4 329.8 L557.1 329.6 L557.8 330.9 L558.6 330.3 L559.3 330.9 L560.0 329.6 L560.7 331.1 L561.4 330.1 L562.0 331.1 L562.7 331.2 L563.4 330.4 L564.0 329.5 L564.6 331.3 L565.3 330.4 L565.9 331.2 L566.5 330.0 L567.0 329.8 L567.6 331.1 L568.1 330.2 L568.7 329.8 L569.2 330.2 L569.7 330.7 L570.2 329.5 L570.6 330.5 L571.1 330.4 L571.5 330.5 L571.9 329.7 L572.3 330.9 L572.7 331.1 L573.0 331.2 L573.3 330.1 L573.6 330.9 L573.9 330.3 L574.2 331.0 L574.4 329.6 L574.6 331.2 L574.8 331.4 L575.0 330.5 L575.2 330.5 L575.3 330.6 L575.4 330.6 L575.4 329.5 L575.5 331.4 L575.5 330.5" stroke-width="1.7" stroke="#141414" stroke-linecap="butt"/>
<path d="M117.4 425.5 L117.4 425.0 L117.4 424.8 L117.4 424.5 L117.4 424.4 L117.5 425.1 L117.5 423.3 L117.5 423.0 L117.6 423.5 L117.6 422.1 L117.7 421.2 L117.7 421.5 L117.8 420.8 L117.8 420.0 L117.9 419.6 L117.9 417.8 L118.0 418.3 L118.0 417.3 L118.1 415.4 L118.1 414.7 L118.2 414.5 L118.3 413.7 L118.3 412.6 L118.4 411.5 L118.4 411.2 L118.5 410.0 L118.6 410.1 L118.6 409.9 L118.7 408.0 L118.7 408.0 M119.2 402.4 L119.2 401.9 L119.3 401.5 L119.3 399.9 L119.4 400.4 L119.4 400.0 L119.5 398.4 L119.5 397.9 L119.6 398.0 L119.6 396.8 L119.7 396.0 L119.7 396.3 L119.8 395.4 L119.8 394.1 L119.9 393.3 L119.9 392.9 L120.0 392.5 L120.0 392.8 L120.0 391.9 L120.1 391.5 L120.1 390.7 L120.2 390.1 L120.2 388.2 L120.3 388.4 L120.3 388.6 L120.3 387.9 L120.4 386.2 L120.4 386.1 M120.9 378.2 L121.0 377.5 L121.0 377.3 L121.0 376.3 L121.1 376.0 L121.1 374.7 L121.1 374.7 L121.2 374.2 L121.2 372.8 L121.2 372.4 L121.3 373.2 L121.3 372.3 L121.3 372.0 L121.4 370.9 L121.4 370.5 L121.4 370.1 L121.5 369.4 L121.5 367.4 L121.5 367.8 L121.6 366.5 L121.6 366.6 L121.6 365.7 M122.1 357.0 L122.1 356.0 L122.2 355.8 L122.2 355.8 L122.2 354.5 L122.3 353.2 L122.3 352.9 L122.3 352.0 L122.4 352.1 L122.4 350.2 L122.4 349.4 L122.4 349.2 L122.5 347.5 L122.5 347.5 L122.5 347.3 L122.6 345.8 L122.6 344.6 L122.6 344.2 L122.6 343.5 L122.7 342.2 L122.7 341.4 L122.7 340.7 L122.8 340.4 L122.8 339.9 L122.8 339.1 L122.9 338.5 L122.9 337.7 L122.9 338.0 L123.0 338.1 L123.0 337.3 L123.1 336.9 L123.1 336.8 L123.2 335.8 L123.2 336.5 L123.3 336.0 L123.3 336.1 L123.3 336.2 L123.4 336.1 L123.5 336.0 L123.5 336.0 L123.6 336.3 L123.6 337.1 L123.7 337.2 L123.7 338.0 L123.8 337.5 L123.9 338.5 L123.9 339.9 L124.0 339.4 L124.1 340.6 L124.1 341.1 L124.2 341.4 L124.3 343.3 L124.3 342.8 L124.4 344.4 L124.5 344.1 L124.5 344.7 L124.6 346.8 L124.7 346.9 L124.7 347.1 L124.8 348.4 L124.9 349.3 L124.9 350.6 L125.0 350.3 L125.1 351.3 L125.2 353.3 L125.2 353.7 L125.3 353.5 L125.4 354.6 L125.4 355.3 L125.5 356.6 L125.6 357.1 L125.6 358.2 L125.7 358.7 L125.8 358.8 M126.6 366.3 L126.6 367.0 L126.7 368.0 L126.7 368.6 L126.8 369.3 L126.9 369.4 L126.9 370.6 L127.0 371.1 L127.1 372.1 L127.1 371.3 L127.2 373.2 L127.3 372.4 L127.3 374.3 L127.4 374.6 L127.5 375.0 L127.5 376.4 L127.6 376.3 L127.7 376.6 L127.7 377.8 L127.8 378.5 L127.9 378.6 L127.9 378.8 L128.0 379.5 L128.1 380.0 L128.1 380.6 M129.0 386.8 L129.0 387.8 L129.1 387.7 L129.2 388.4 L129.3 389.3 L129.4 389.5 L129.5 390.0 L129.6 391.3 L129.7 392.0 L129.8 391.9 L129.9 392.4 L130.0 392.5 L130.1 393.3 L130.3 393.7 L130.4 395.0 L130.6 395.6 L130.8 395.4 L130.9 397.4 L131.1 397.0 L131.2 398.4 L131.4 399.0 L131.6 399.8 L131.7 399.1 L131.9 400.0 L132.1 400.7 M134.3 409.2 L134.7 410.5 L135.1 409.4 L135.6 409.9 L136.0 411.2 L136.5 411.5 L137.0 412.6 L137.5 412.8 L137.9 412.8 L138.4 414.0 L138.9 413.7 L139.4 414.2 L140.0 414.9 L140.5 414.8 L141.0 415.0 L141.4 415.5 L141.9 414.9 L142.3 415.5 L142.7 414.5 L143.1 413.7 M148.2 406.9 L148.4 406.4 L148.6 405.2 L148.8 405.1 L149.0 404.6 L149.3 404.3 L149.5 403.7 L149.7 403.6 L149.8 403.2 L150.0 401.7 L150.2 401.0 L150.4 400.7 L150.6 400.7 L150.8 398.9 L151.0 398.6 L151.1 398.4 L151.3 396.7 L151.5 396.3 L151.6 396.8 L151.8 395.9 L151.9 394.8 L152.1 393.5 L152.2 394.3 L152.3 393.4 L152.5 392.5 M153.6 386.6 L153.7 386.5 L153.8 386.2 L153.9 385.4 L154.0 384.0 L154.1 382.9 L154.2 382.5 L154.3 382.3 L154.4 381.6 L154.5 380.4 L154.6 379.8 L154.7 379.9 L154.8 379.2 L154.9 378.1 L155.0 378.5 L155.1 377.4 L155.2 375.8 L155.2 375.9 L155.3 376.0 L155.4 374.6 L155.5 374.7 L155.6 373.0 L155.6 372.9 L155.7 373.3 L155.8 372.3 L155.9 371.8 L156.0 371.0 M156.7 365.0 L156.8 363.9 L156.8 363.8 L156.9 363.3 L157.0 362.2 L157.1 362.2 L157.1 361.4 L157.2 361.6 L157.3 360.3 L157.3 359.4 L157.4 358.3 L157.5 357.7 L157.6 358.1 L157.6 356.4 L157.7 355.7 L157.8 355.2 L157.8 355.2 L157.9 355.1 L158.0 354.1 L158.1 353.8 L158.1 351.9 L158.2 351.2 L158.3 351.9 L158.3 350.5 L158.4 350.6 L158.5 349.4 L158.5 348.5 L158.6 348.5 M159.3 341.8 L159.4 340.8 L159.4 339.9 L159.5 340.6 L159.6 339.5 L159.6 338.4 L159.7 338.0 L159.7 337.3 L159.8 336.1 L159.9 336.9 L159.9 335.7 L160.0 335.7 L160.1 334.2 L160.1 333.9 L160.2 332.7 L160.2 331.7 L160.3 332.6 L160.4 331.8 L160.4 330.3 L160.5 330.7 L160.5 329.9 L160.6 328.4 L160.6 328.3 L160.7 328.3 L160.8 327.0 L160.8 327.1 L160.9 325.3 L160.9 325.0 L161.0 325.0 L161.0 323.5 L161.1 323.1 L161.1 323.5 L161.2 322.2 L161.2 322.2 L161.3 320.7 L161.4 320.0 L161.4 319.8 L161.5 318.8 L161.5 319.5 L161.6 317.7 L161.6 317.5 L161.7 316.2 L161.7 316.3 L161.8 315.4 L161.8 314.8 L161.9 313.7 L161.9 313.2 L162.0 313.8 L162.0 312.4 L162.1 311.6 L162.1 310.9 L162.1 310.5 L162.2 309.8 L162.2 308.9 L162.3 309.4 L162.3 308.3 L162.4 307.4 L162.4 307.8 L162.4 306.1 L162.5 306.2 M163.0 299.6 L163.0 298.6 L163.1 298.9 L163.1 297.0 L163.2 296.9 L163.2 297.0 L163.3 296.4 L163.3 294.7 L163.4 294.5 L163.4 294.5 L163.5 293.3 L163.5 293.7 L163.6 291.8 L163.6 292.4 L163.6 291.0 L163.7 289.9 L163.7 289.6 L163.8 288.4 L163.8 288.7 L163.9 287.3 L163.9 287.7 L164.0 286.5 L164.0 285.4 L164.0 284.5 L164.1 284.5 L164.1 283.1 L164.2 283.5 L164.2 281.5 L164.3 281.5 L164.3 280.9 L164.4 279.7 L164.4 279.9 L164.5 278.5 L164.5 278.3 L164.6 277.5 L164.6 276.3 L164.7 275.8 L164.7 274.6 L164.8 274.1 L164.8 274.6 L164.9 273.0 L164.9 273.0 L165.0 271.4 L165.1 271.6 L165.1 270.6 L165.2 270.2 L165.2 269.3 L165.3 268.3 L165.3 268.1 L165.4 267.4 L165.5 266.7 L165.5 267.2 L165.6 265.9 L165.7 265.6 L165.7 266.0 L165.8 265.3 L165.9 265.0 L165.9 264.5 L166.0 262.9 L166.1 262.7 L166.2 261.9 L166.2 262.7 L166.3 262.3 L166.5 260.9 L166.7 260.5 M169.1 254.9 L169.4 254.2 L169.7 254.1 L170.1 253.6 L170.4 252.3 L170.7 252.7 L171.0 251.3 L171.3 251.2 L171.6 249.9 L171.8 249.1 L172.1 249.8 L172.4 248.7 L172.6 248.0 L172.9 246.1 L173.2 245.4 L173.4 245.0 L173.7 244.6 L173.9 244.4 L174.2 244.2 L174.4 243.5 L174.8 244.1 L175.2 245.2 L175.6 245.1 L176.0 247.0 L176.2 246.9 L176.3 247.6 L176.5 247.2 L176.6 248.0 L176.8 248.7 M178.2 255.1 L178.4 256.2 L178.5 256.3 L178.6 256.2 L178.7 258.1 L178.8 258.5 L178.9 258.2 L179.0 258.3 L179.1 260.2 L179.2 260.3 L179.3 259.9 L179.4 260.8 L179.5 261.2 L179.6 262.9 L179.7 262.5 L179.8 264.3 L179.8 264.6 L179.9 264.0 L180.0 265.7 L180.1 265.8 L180.2 267.0 L180.3 267.8 L180.4 267.5 L180.5 267.8 L180.6 269.8 L180.7 269.6 L180.8 271.1 L180.9 271.0 M181.9 277.3 L182.0 278.3 L182.1 279.0 L182.2 279.7 L182.3 280.0 L182.4 280.3 L182.5 280.2 L182.6 281.9 L182.7 282.1 L182.8 282.8 L182.9 284.1 L183.0 283.4 L183.1 285.1 L183.2 284.5 L183.3 286.2 L183.4 287.1 L183.5 286.8 L183.6 287.9 L183.7 289.2 L183.9 289.3 L184.0 289.8 L184.1 289.9 L184.2 290.2 L184.3 291.3 L184.4 292.1 L184.5 292.3 L184.6 293.2 L184.7 293.5 L184.8 295.1 L184.9 295.6 L185.0 295.5 L185.1 296.1 L185.2 297.2 L185.3 297.7 L185.4 299.1 L185.5 298.7 L185.6 299.2 L185.7 300.8 L185.8 300.1 L185.9 301.3 L186.0 301.5 L186.1 302.9 L186.2 302.9 L186.3 303.8 L186.4 303.3 L186.4 304.7 L186.5 305.1 L186.6 305.3 L186.7 306.6 L186.8 307.4 L186.9 306.9 L187.0 307.8 L187.0 308.8 M189.3 319.0 L189.6 319.5 L189.8 319.9 L190.1 320.3 L190.4 321.4 L190.7 321.9 L191.1 323.4 L191.4 323.6 L191.7 323.6 L192.0 324.6 L192.4 325.4 L192.7 325.7 L193.1 325.8 L193.4 326.0 L193.8 326.2 L194.1 328.2 L194.5 327.9 L194.8 326.9 L195.2 327.6 M200.8 322.5 L201.2 322.4 L201.6 322.4 L201.9 321.2 L202.3 319.9 L202.7 320.0 L203.1 319.4 L203.4 318.5 L203.8 318.5 L204.1 317.1 L204.5 318.0 L204.8 317.0 L205.1 316.4 L205.4 316.4 L205.7 315.4 L206.0 314.1 L206.2 313.6 L206.5 312.9 L206.7 312.2 L206.9 312.3 M209.6 304.7 L210.0 304.7 L210.4 304.3 L210.8 302.8 L211.3 302.1 L211.7 302.4 L212.2 302.3 L212.6 302.0 L213.0 300.2 L213.4 300.9 L213.8 300.6 L214.3 299.8 L214.8 298.6 L215.4 297.8 L215.9 298.4 L216.4 297.1 L216.9 296.9 L217.4 297.1 L217.9 296.8 L218.4 297.2 M223.9 301.4 L224.4 302.4 L224.8 301.9 L225.3 302.0 L225.7 303.3 L226.1 303.9 L226.5 304.7 L226.9 305.0 L227.2 305.9 L227.6 306.5 L227.9 306.3 L228.3 306.9 L228.6 306.9 L228.9 308.1 M232.2 314.5 L232.5 314.7 L232.8 315.8 L233.1 315.5 L233.3 317.1 L233.6 316.7 L233.9 317.7 L234.2 319.2 L234.6 318.3 L234.9 318.7 L235.3 319.9 L235.6 320.0 L235.9 321.4 L236.3 320.7 L236.6 322.7 L236.9 323.2 L237.3 323.7 L237.6 323.7 M241.3 330.1 L241.6 330.4 L242.0 330.6 L242.5 331.7 L243.0 331.9 L243.4 332.2 L243.9 332.5 L244.4 333.0 L244.9 333.7 L245.4 334.3 L245.9 334.8 L246.5 333.9 L247.0 334.4 L247.6 335.0 L248.2 335.5 L248.8 335.4 L249.4 335.3 L250.1 336.0 M258.0 332.8 L258.5 331.9 L259.1 332.2 L259.8 332.4 L260.4 333.2 L261.0 333.0 L261.7 332.9 L262.3 333.1 L262.9 333.0 L263.6 332.4 L264.2 332.7 L264.8 331.4 L265.4 332.4 L266.0 332.1 M273.7 331.1 L274.1 331.2 L274.6 330.7 L275.0 331.1 L275.5 331.8 L276.0 331.0 L276.5 331.3 L277.0 330.7 L277.5 330.7 L278.0 331.6 L278.5 330.2 L279.1 330.5 L279.6 331.3 L280.2 330.9 L280.8 330.3 L281.3 331.3 L281.9 330.8 L282.5 331.2 L283.1 330.9 L283.8 331.1 L284.4 331.2 L285.0 330.9 L285.7 330.5 L286.3 330.6 L286.9 331.8 L287.6 331.3 L288.3 330.6 L288.9 331.8 L289.6 331.3 M295.8 331.4 L296.5 331.0 L297.2 330.8 L297.9 331.5 L298.6 331.1 L299.3 331.5 L300.0 331.6 L300.5 331.0 L301.0 331.6 L301.6 330.9 L302.1 331.5 L302.6 331.7 L303.2 330.8 L303.7 331.4 L304.3 330.8 L304.8 331.5 L305.4 332.2 L306.0 331.7 L306.6 331.9 L307.2 332.0 L307.7 330.9 L308.3 332.4 L308.9 332.0 L309.5 330.9 L310.1 332.2 L310.8 331.6 M316.4 331.7 L317.0 331.5 L317.7 331.1 L318.3 332.5 L319.0 331.8 L319.6 332.2 L320.3 331.1 L320.9 332.2 L321.6 331.0 L322.2 331.3 L322.9 331.5 L323.5 330.9 L324.2 331.9 L324.8 331.3 L325.5 331.4 L326.1 332.1 L326.8 331.6 L327.4 332.4 L328.1 332.0 L328.7 332.4 L329.4 331.9 L330.0 332.5 L330.7 332.4 L331.3 331.8 M337.6 331.9 L338.3 331.3 L338.9 332.3 L339.5 331.6 L340.1 332.3 L340.7 332.2 L341.3 332.5 L341.9 331.3 L342.4 331.7 L343.0 332.3 L343.6 332.7 L344.2 332.3 L344.7 331.2 L345.3 332.1 L345.8 331.3 L346.4 332.0 L346.9 332.5 L347.4 331.3 L348.0 332.7 L348.5 332.3 L349.0 331.6 L349.5 331.5 L350.0 331.9 L350.7 332.6 L351.4 332.2 L352.1 331.4 L352.8 332.0 M358.5 332.1 L359.2 331.3 L359.8 331.5 L360.4 332.6 L361.0 331.6 L361.5 332.2 L362.1 331.8 L362.7 332.5 L363.3 332.0 L363.9 331.6 L364.4 332.8 L365.0 332.3 L365.6 332.5 L366.2 332.7 L366.7 333.0 L367.3 331.4 L367.8 332.0 L368.4 331.6 L369.0 332.2 L369.5 332.9 L370.1 332.8 L370.6 331.5 L371.2 331.7 L371.8 332.8 L372.3 332.6 L372.9 332.1 L373.4 332.3 M379.6 332.4 L380.2 332.3 L380.8 331.8 L381.4 333.0 L382.0 332.2 L382.6 333.0 L383.2 332.6 L383.8 331.7 L384.4 332.1 L385.0 331.9 L385.6 333.1 L386.2 332.6 L386.8 331.6 L387.4 331.9 L388.0 332.2 L388.6 332.4 L389.2 332.6 L389.9 332.3 L390.5 332.2 L391.1 331.6 L391.7 332.6 L392.4 332.2 L393.0 331.7 L393.6 332.4 L394.2 333.3 L394.7 332.5 M400.8 332.6 L401.4 331.9 L402.0 332.0 L402.6 333.0 L403.2 332.3 L403.8 332.3 L404.5 332.7 L405.1 332.3 L405.7 332.8 L406.3 332.8 L406.9 333.5 L407.6 333.6 L408.2 332.0 L408.8 332.9 L409.4 333.3 L410.0 333.5 L410.6 333.3 L411.2 333.1 L411.8 333.1 L412.4 332.7 L413.0 332.5 L413.6 333.4 L414.2 333.6 L414.8 333.7 L415.4 333.0 M421.6 333.3 L422.2 333.6 L422.8 333.0 L423.4 333.8 L424.0 333.8 L424.6 333.4 L425.2 333.7 L425.9 333.2 L426.5 333.6 L427.1 333.4 L427.7 332.9 L428.3 333.4 L428.9 333.4 L429.5 334.5 L430.1 333.7 L430.7 333.5 L431.3 333.4 L431.9 333.4 L432.4 333.6 L433.0 333.3 L433.6 333.1 L434.2 334.6 L434.8 333.9 L435.4 333.9 L436.0 334.1 L436.6 334.0 M442.6 334.1 L443.2 333.8 L443.8 333.5 L444.4 333.4 L444.9 333.8 L445.5 333.8 L446.1 334.5 L446.7 334.2 L447.3 334.8 L447.9 333.8 L448.5 334.8 L449.1 334.3 L449.7 333.4 L450.3 333.6 L450.9 334.3 L451.5 335.0 L452.1 333.9 L452.7 334.6 L453.4 334.1 L454.0 334.8 L454.6 333.5 L455.2 334.2 L455.8 334.9 L456.3 333.9 L456.9 333.9 L457.5 334.3 M463.6 334.6 L464.2 333.9 L464.8 334.1 L465.4 334.3 L466.0 335.1 L466.7 334.3 L467.3 334.7 L467.9 334.4 L468.5 335.1 L469.1 335.6 L469.8 335.2 L470.4 334.5 L471.0 335.5 L471.6 335.9 L472.3 335.3 L472.9 334.4 L473.5 335.7 L474.1 335.9 L474.8 335.0 L475.4 334.7 L476.0 334.8 L476.6 335.4 L477.2 336.0 L477.7 335.6 L478.3 336.1 L478.9 335.4 M484.3 335.7 L484.9 335.2 L485.4 335.4 L486.0 336.2 L486.5 336.0 L487.1 335.6 L487.7 336.1 L488.2 335.6 L488.8 335.1 L489.4 335.7 L490.0 335.1 L490.6 336.1 L491.2 335.7 L491.8 336.0 L492.4 336.2 L493.0 335.6 L493.7 336.0 L494.3 335.2 L495.0 336.8 L495.7 336.2 L496.4 336.9 L497.1 335.4 L497.8 336.3 L498.5 336.5 L499.2 336.2 M505.6 336.3 L506.2 336.0 L506.8 335.6 L507.4 335.7 L508.1 335.7 L508.7 336.8 L509.3 335.7 L510.0 336.9 L510.6 336.2 L511.3 336.4 L512.0 336.5 L512.7 336.5 L513.4 336.7 L514.1 336.6 L514.8 336.1 L515.5 336.8 L516.3 336.0 L517.0 336.8 L517.7 336.9 L518.5 336.9 L519.2 336.1 L520.0 336.9 L520.8 336.5 M527.1 336.5 L527.9 337.4 L528.7 336.5 L529.5 336.2 L530.3 336.6 L531.1 337.3 L531.9 335.9 L532.8 335.7 L533.6 336.5 L534.4 336.9 L535.2 337.1 L536.0 336.4 L536.8 337.4 L537.7 336.1 L538.5 337.1 L539.3 335.9 L540.1 335.8 L540.9 336.0 L541.7 336.6 M548.1 336.7 L548.8 335.9 L549.6 336.7 L550.4 336.8 L551.1 336.2 L551.9 337.4 L552.6 336.5 L553.4 336.1 L554.1 336.2 L554.8 337.1 L555.6 337.4 L556.3 336.1 L557.0 335.9 L557.7 337.2 L558.4 336.3 L559.0 337.6 L559.7 336.7 L560.4 337.0 L561.0 336.5 L561.6 337.3 L562.3 336.7 L562.9 336.7 M568.4 336.8 L568.9 336.5 L569.4 337.5 L569.8 336.1 L570.2 337.2 L570.7 336.0 L571.1 337.0 L571.5 336.6 L571.8 337.4 L572.2 336.0 L572.5 336.9 L572.9 336.6 L573.2 337.5 L573.5 337.5 L573.7 337.0 L574.0 336.3 L574.2 336.4 L574.4 336.4 L574.6 336.7 L574.8 336.3 L575.0 336.3 L575.1 337.2 L575.2 337.0 L575.3 336.5 L575.4 337.6 L575.5 336.3 L575.5 336.9 L575.5 336.8" stroke-width="1.75" stroke="#141414" stroke-linecap="butt"/>
<path d="M175.8 48.5 L177.4 45 L178.6 44.8 L179.7 48 L180.1 60.5 L177.8 59.2 L175.2 60.5 Z" fill="#141414" stroke="#141414" stroke-width="0.8"/>
</g>
<g stroke="#000" stroke-width="2.6">
<line x1="515.2" x2="561.2" y1="39" y2="39"/>
<line x1="515.2" x2="526.5" y1="62.9" y2="62.9"/><line x1="532" x2="544.8" y1="62.9" y2="62.9"/><line x1="549" x2="560.4" y1="62.9" y2="62.9"/>
</g>
<g font-size="24">
<g font-size="25.3"><text transform="translate(568.00,46.60) scale(1,1.03)">Ca, 2%</text><text transform="translate(568.00,70.80) scale(1,1.03)">Na, 2%</text></g>

</g>
</svg>
</body></html>
